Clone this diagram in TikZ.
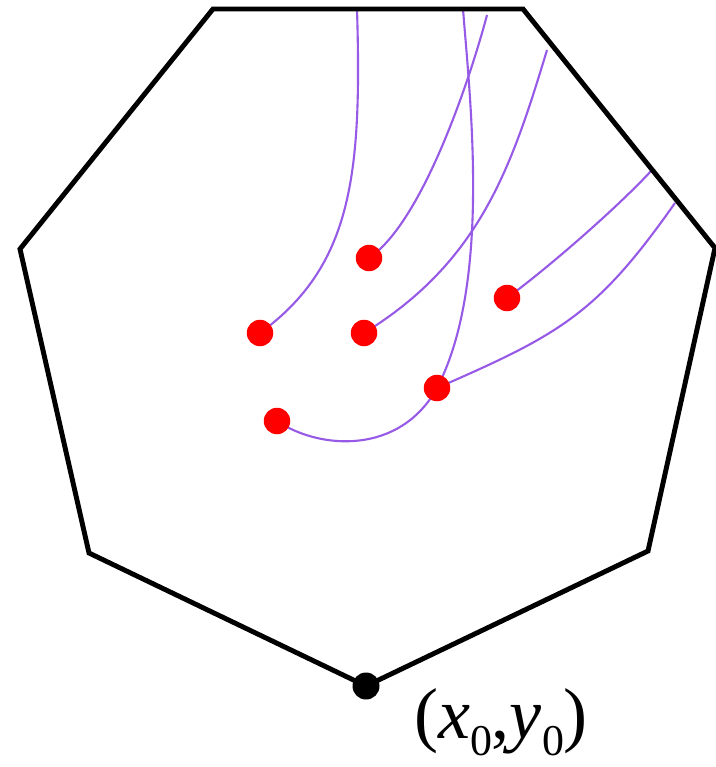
\documentclass[tikz,border=0pt]{standalone}
\usepackage{fontspec}
\setmainfont{Liberation Serif}
\usepackage{tikz}
\usetikzlibrary{positioning, backgrounds}
\definecolor{tpurple}{RGB}{150,90,230}
\definecolor{tred}{RGB}{255,0,0}
\newcommand{\lowsub}[1]{\raisebox{-10pt}{\fontsize{25}{27}\selectfont #1}}

\begin{document}
\begin{tikzpicture}[x=0.02cm, y=-0.02cm,
    every node/.style={font=\fontsize{41}{48}\selectfont},
    dot/.style={circle, fill=tred, inner sep=0pt, minimum size=0.53cm},
    traj/.style={tpurple, line width=1.2pt}]
    \useasboundingbox (0,0) rectangle (716,767);

    % Heptagon corners
    \coordinate (v1) at (213,9);
    \coordinate (v2) at (523,9);
    \coordinate (v3) at (715,248);
    \coordinate (v4) at (648,551);
    \coordinate (v5) at (366,686);
    \coordinate (v6) at (89,553);
    \coordinate (v7) at (20,249);
    \draw[line width=2.8pt, line join=miter] (v1) -- (v2) -- (v3) -- (v4) -- (v5) -- (v6) -- (v7) -- cycle;

    % Start point and its label
    \node[circle, fill=black, inner sep=0pt, minimum size=0.54cm] (start) at (v5) {};
    \node[anchor=base, inner sep=0pt] (lbl) at (501,738) {(\textit{x}\lowsub{0},\textit{y}\lowsub{0})};

    % Red points
    \node[dot] (p1) at (260,333) {};
    \node[dot] (p2) at (369,258) {};
    \node[dot] (p3) at (364,333) {};
    \node[dot] (p4) at (507,298) {};
    \node[dot] (p5) at (437,388) {};
    \node[dot] (p6) at (277,421) {};

    % Exit points on the boundary
    \coordinate (e1) at (357,9);
    \coordinate (e2) at (487,15);
    \coordinate (e3) at (463,9);
    \coordinate (e4) at (547,50);
    \coordinate (e5) at (652,170);
    \coordinate (e6) at (675,203);

    % Paths (behind the points)
    \begin{scope}[on background layer]
      \draw[traj] (p1.center) .. controls (352,266) and (362,175) .. (e1);
      \draw[traj] (p2.center) .. controls (424,221) and (472,72) .. (e2);
      \draw[traj] (p6.center) .. controls (320,450) and (400,455) .. (p5.center)
                              .. controls (491,284) and (470.5,104) .. (e3);
      \draw[traj] (p3.center) .. controls (480,262) and (511.6,167) .. (e4);
      \draw[traj] (p4.center) .. controls (548,268) and (618,207) .. (e5);
      \draw[traj] (p5.center) .. controls (560.6,334) and (596.8,314.2) .. (e6);
    \end{scope}
\end{tikzpicture}
\end{document}
